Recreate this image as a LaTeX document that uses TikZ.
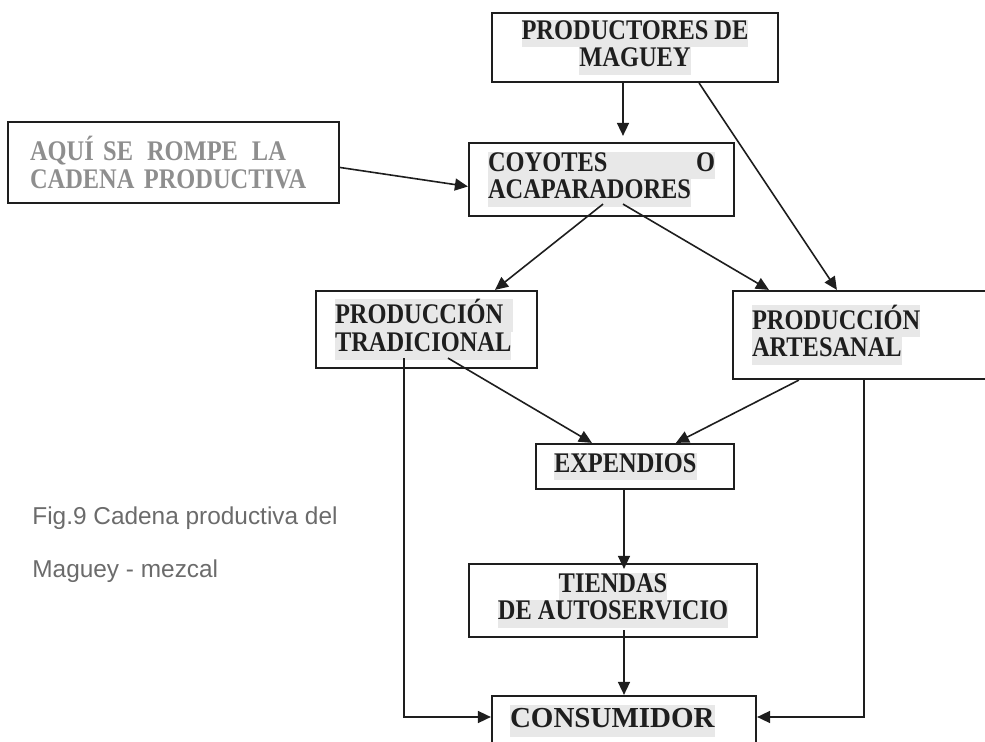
\documentclass[tikz,border=0pt]{standalone}
\usepackage{fontspec}
\setmainfont{Liberation Serif}
\newfontfamily\boxfont[FakeStretch=0.86]{Liberation Serif}
\newfontfamily\capfont{Liberation Sans}
\usetikzlibrary{calc}
\usetikzlibrary{arrows.meta}
\definecolor{hlgray}{HTML}{E8E8E8}
\definecolor{txtgray}{HTML}{8E8E8E}
\definecolor{capgray}{HTML}{6B6B6B}
\definecolor{ink}{HTML}{1E1E1E}
\setlength{\fboxsep}{0pt}
\newcommand{\hlline}[1]{\colorbox{hlgray}{\strut #1}}
\tikzset{
  box/.style={draw=ink, line width=1.1pt, inner ysep=0pt, text=ink,
    font=\boxfont\fontsize{14.2}{13.9}\selectfont\bfseries},
  arr/.style={draw=ink, line width=0.8pt, -{Triangle[length=6.5pt,width=6pt]}},
  caption/.style={inner sep=0pt, anchor=base west, text=capgray,
    font=\capfont\fontsize{12.2}{14}\selectfont}
}

\begin{document}
\begin{tikzpicture}[x=0.5pt, y=-0.5pt]
                \clip (0,0) rectangle (985,742);

                % boxes
                \node[box, align=center, minimum width=143pt, minimum height=34.5pt] (prod) at (635,47.5)
                    {\hlline{PRODUCTORES DE}\\\hlline{MAGUEY}};
                \node[box, align=left, inner xsep=11pt, text width=143.5pt, minimum height=40.5pt, text=txtgray] (aqui) at (173.5,162.5)
                    {AQUÍ SE\hspace{7pt}ROMPE\hspace{7pt}LA\\CADENA PRODUCTIVA};
                \node[box, align=left, inner xsep=9.5pt, text width=113.5pt, minimum height=36.5pt] (coy) at (601.5,179.5)
                    {\hlline{\makebox[113.5pt][l]{COYOTES\hfill O}}\\\hlline{ACAPARADORES}};
                \node[box, align=left, inner xsep=9.5pt, text width=91.5pt, minimum height=38.5pt] (trad) at (426.5,329.5)
                    {\hlline{PRODUCCIÓN }\\\hlline{TRADICIONAL}};
                \node[box, align=left, inner xsep=9.5pt, text width=114.5pt, minimum height=44pt] (art) at (866.5,335)
                    {\hlline{PRODUCCIÓN}\\\hlline{ARTESANAL}};
                \node[box, align=left, inner xsep=9pt, text width=81pt, minimum height=22.5pt] (exp) at (635,466.5)
                    {\hlline{EXPENDIOS}};
                \node[box, align=center, minimum width=144pt, minimum height=36.5pt] (tie) at (613,600.5)
                    {\hlline{TIENDAS}\\\hlline{DE AUTOSERVICIO}};
                \node[box, align=left, inner xsep=9pt, text width=114pt, minimum height=25pt,
                    font=\fontsize{14.5}{16}\selectfont\bfseries] (con) at (624,721)
                    {\hlline{CONSUMIDOR}};

                % caption
                \node[caption] (cap1) at (32,525) {Fig.9 Cadena productiva del};
                \node[caption] (cap2) at (32,578) {Maguey - mezcal};

                % productores to coyotes
                \draw[arr] ($(prod.south)+(-12,0)$) -- ($(coy.north)+(21.5,-6)$);
                % aqui to coyotes
                \draw[arr] ($(aqui.east)+(0,5)$) -- ($(coy.west)+(0,7)$);
                % productores to artesanal
                \draw[arr] ($(prod.south east)+(-80,0)$) -- ($(art.north west)+(105,0)$);
                % coyotes to tradicional
                \draw[arr] ($(coy.south)+(1.5,-13)$) -- ($(trad.north)+(68.5,0)$);
                % coyotes to artesanal
                \draw[arr] ($(coy.south)+(21.5,-13)$) -- ($(art.north west)+(37,0)$);
                % tradicional to expendios
                \draw[arr] ($(trad.south)+(21.5,-11)$) -- ($(exp.north west)+(57,0)$);
                % artesanal to expendios
                \draw[arr] ($(art.south west)+(67,0)$) -- ($(exp.north west)+(141,0)$);
                % expendios to tiendas
                \draw[arr] ($(exp.south)+(-11,0)$) -- ($(tie.north)+(11,6)$);
                % tiendas to consumidor
                \draw[arr] ($(tie.south)+(11,-8)$) -- (con.north);
                % tradicional to consumidor
                \draw[arr] ($(trad.south)+(-22.5,-11)$) |- ($(con.west)+(0,-4)$);
                % artesanal to consumidor
                \draw[arr] ($(art.south west)+(132,0)$) |- ($(con.east)+(0,-4)$);
\end{tikzpicture}
\end{document}
